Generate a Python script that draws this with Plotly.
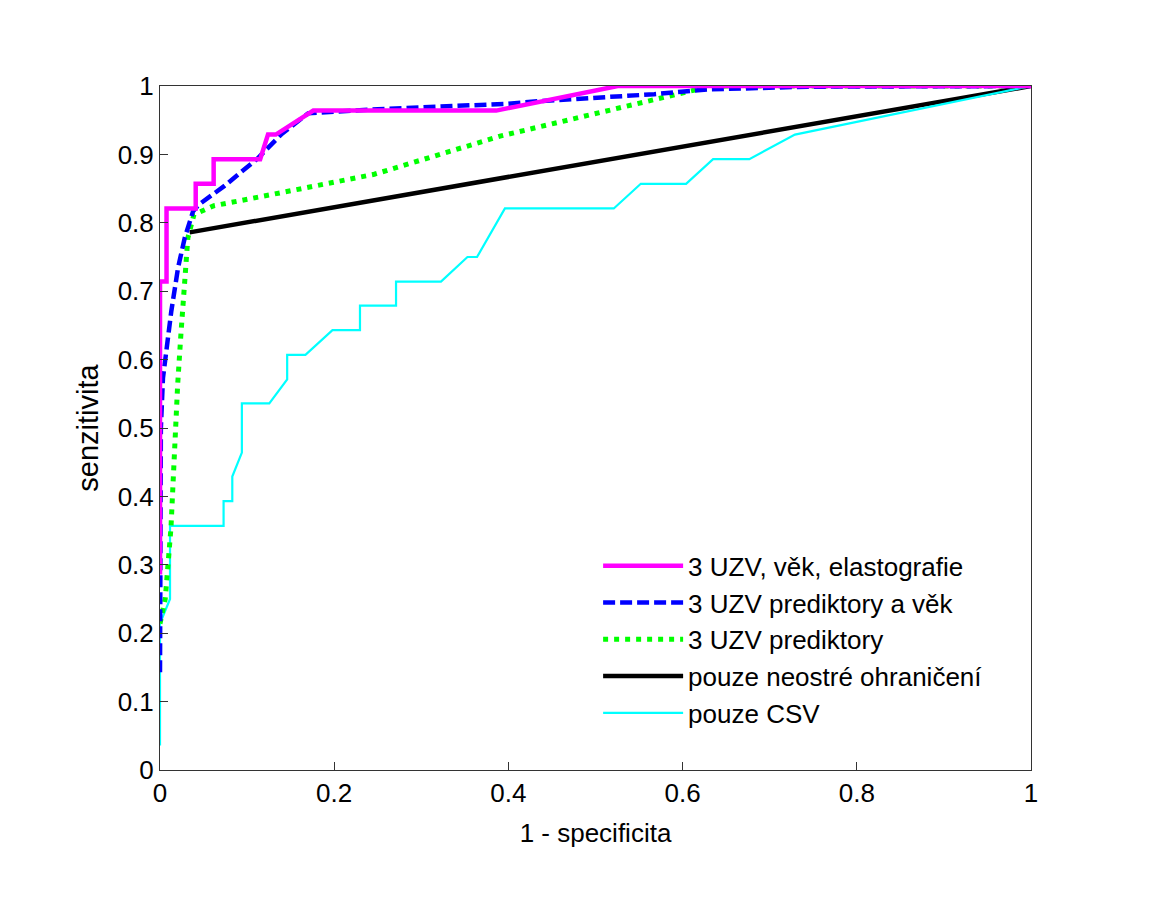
import plotly.graph_objects as go

# ROC curves: (1 - specificity, sensitivity)
mag_x = [0, 0, 0.0075, 0.0075, 0.041, 0.041, 0.0616, 0.0616, 0.115, 0.124, 0.133, 0.176, 0.386, 0.5255, 1]
mag_y = [0.286, 0.714, 0.714, 0.821, 0.821, 0.857, 0.857, 0.893, 0.893, 0.929, 0.929, 0.964, 0.964, 1, 1]

blue_x = [0, 0, 0.001, 0.0034, 0.013, 0.0207, 0.0284, 0.038, 0.045, 0.074, 0.112, 0.139, 0.17, 0.25, 0.3226, 0.398, 0.437, 0.5675, 0.629, 0.744, 1]
blue_y = [0.143, 0.29, 0.5, 0.573, 0.671, 0.734, 0.778, 0.817, 0.827, 0.854, 0.894, 0.929, 0.960, 0.966, 0.970, 0.974, 0.978, 0.988, 0.995, 0.999, 1]

green_x = [0, 0.006, 0.0126, 0.0164, 0.0203, 0.024, 0.027, 0.028, 0.032, 0.039, 0.062, 0.131, 0.246, 0.3915, 0.514, 0.583, 0.617, 0.65, 1]
green_y = [0.214, 0.25, 0.354, 0.481, 0.564, 0.637, 0.686, 0.72, 0.778, 0.812, 0.825, 0.842, 0.871, 0.927, 0.9645, 0.984, 0.995, 1, 1]

black_x = [0.034, 1]
black_y = [0.786, 1]

cyan_x = [0, 0, 0.0115, 0.0115, 0.073, 0.073, 0.083, 0.083, 0.094, 0.094, 0.1255, 0.146, 0.146, 0.167, 0.198, 0.2296,
          0.2296, 0.271, 0.271, 0.3226, 0.353, 0.364, 0.396, 0.521, 0.552, 0.604, 0.635, 0.6766, 0.729, 1]
cyan_y = [0.0357, 0.214, 0.25, 0.357, 0.357, 0.393, 0.393, 0.429, 0.464, 0.536, 0.536, 0.571, 0.607, 0.607, 0.643, 0.643,
          0.679, 0.679, 0.714, 0.714, 0.75, 0.75, 0.821, 0.821, 0.857, 0.857, 0.893, 0.893, 0.929, 1]

names = ["3 UZV, věk, elastografie", "3 UZV prediktory a věk", "3 UZV prediktory",
         "pouze neostré ohraničení", "pouze CSV"]

x_ticks = [0, 0.2, 0.4, 0.6, 0.8, 1]
x_tick_text = ["0", "0.2", "0.4", "0.6", "0.8", "1"]
y_ticks = [0, 0.1, 0.2, 0.3, 0.4, 0.5, 0.6, 0.7, 0.8, 0.9, 1]
y_tick_text = ["0", "0.1", "0.2", "0.3", "0.4", "0.5", "0.6", "0.7", "0.8", "0.9", "1"]

FONT = "Liberation Sans, Arial, sans-serif"

fig = go.Figure()
fig.add_trace(go.Scatter(x=black_x, y=black_y, mode="lines", name=names[3], legendrank=4,
                         line=dict(color="#000000", width=4.5)))
fig.add_trace(go.Scatter(x=cyan_x, y=cyan_y, mode="lines", name=names[4], legendrank=5,
                         line=dict(color="#00FFFF", width=2.2)))
fig.add_trace(go.Scatter(x=green_x, y=green_y, mode="lines", name=names[2], legendrank=3,
                         line=dict(color="#00FF00", width=5, dash="5px,6px")))
fig.add_trace(go.Scatter(x=blue_x, y=blue_y, mode="lines", name=names[1], legendrank=2,
                         line=dict(color="#0000FF", width=4.5, dash="12px,5px")))
fig.add_trace(go.Scatter(x=mag_x, y=mag_y, mode="lines", name=names[0], legendrank=1,
                         line=dict(color="#FF00FF", width=4.5)))

axis_common = dict(showgrid=False, zeroline=False, showline=True, linecolor="#333333", linewidth=1,
                   mirror=True, ticks="inside", ticklen=8, tickcolor="#333333",
                   tickfont=dict(family=FONT, size=26, color="black"))

fig.update_xaxes(range=[0, 1], tickvals=x_ticks, ticktext=x_tick_text,
                 title_text="1 - specificita", title_standoff=16,
                 title_font=dict(family=FONT, size=26, color="black"), **axis_common)
fig.update_yaxes(range=[0, 1], tickvals=y_ticks, ticktext=y_tick_text,
                 title_text="senzitivita", title_standoff=10,
                 title_font=dict(family=FONT, size=29, color="black"), **axis_common)

fig.update_layout(
    width=1159, height=897,
    margin=dict(l=152, r=136, t=78, b=135, autoexpand=False),
    paper_bgcolor="white", plot_bgcolor="white",
    showlegend=True,
    legend=dict(x=0.503, y=0.333, xanchor="left", yanchor="top",
                bgcolor="rgba(0,0,0,0)", borderwidth=0,
                font=dict(family=FONT, size=26, color="black"),
                itemwidth=80, tracegroupgap=0),
)

fig.write_html("out.html")
